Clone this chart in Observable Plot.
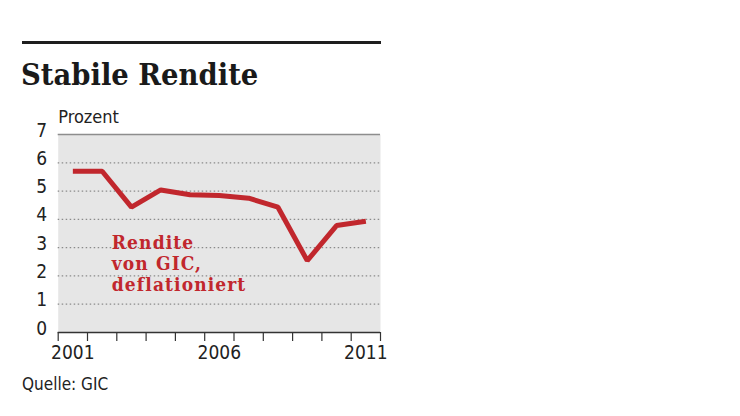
<!DOCTYPE html>
<html>
<head>
<meta charset="utf-8">
<script src="https://cdn.jsdelivr.net/npm/d3@7"></script>
<script src="https://cdn.jsdelivr.net/npm/@observablehq/plot@0.6"></script>
<style>
  html, body { margin: 0; padding: 0; background: #fff; }
  #wrap { position: relative; width: 740px; height: 416px; overflow: hidden; }
  #rule { position: absolute; left: 22px; top: 41px; width: 359px; height: 3px; background: #1e1e1e; }
  #title { position: absolute; left: 21px; top: 56px; font-family: "DejaVu Serif Condensed", "DejaVu Serif", serif; font-weight: bold; font-size: 30.5px; color: #1a1a1a; white-space: nowrap; }
  #caption { position: absolute; left: 22px; top: 374px; font-family: "DejaVu Sans Condensed", "Liberation Sans Narrow", sans-serif; font-size: 17px; color: #222; }
  #chart { position: absolute; left: 0; top: 0; }
  .serieslabel text { letter-spacing: 1.1px; }
</style>
</head>
<body>
<div id="wrap">
  <div id="chart"></div>
  <div id="rule"></div>
  <div id="title">Stabile Rendite</div>
  <div id="caption">Quelle: GIC</div>
</div>
<script>
const years = [2001, 2002, 2003, 2004, 2005, 2006, 2007, 2008, 2009, 2010, 2011];
const values = [5.7, 5.7, 4.43, 5.04, 4.87, 4.84, 4.75, 4.43, 2.54, 3.78, 3.93];
const yTicks = [0, 1, 2, 3, 4, 5, 6, 7];
const gridTicks = [1, 2, 3, 4, 5, 6];
const xLabelYears = [2001, 2006, 2011];
const yearBoundaries = [2000.5, 2001.5, 2002.5, 2003.5, 2004.5, 2005.5, 2006.5, 2007.5, 2008.5, 2009.5, 2010.5, 2011.5];
const unitLabel = "Prozent";
const seriesLabel = "Rendite\nvon GIC,\ndeflationiert";
const seriesLabelPos = [{year: 2002.33, value: 3.47}];

const data = years.map((y, i) => ({year: y, value: values[i]}));

const narrow = "'DejaVu Sans Condensed', 'Liberation Sans Narrow', sans-serif";
const red = "#c1272d";

const chart = Plot.plot({
  width: 740,
  height: 416,
  marginLeft: 57.7,
  marginRight: 360,
  marginTop: 134,
  marginBottom: 84,
  style: {fontFamily: narrow, background: "transparent", overflow: "visible"},
  x: {domain: [2000.5, 2011.5], axis: null},
  y: {domain: [0, 7], axis: null},
  marks: [
    Plot.frame({fill: "#e6e6e6", stroke: null}),
    Plot.ruleY(gridTicks, {stroke: "#8a8a8a", strokeWidth: 1.2, strokeDasharray: "1.5,2.5"}),
    Plot.ruleY([7], {stroke: "#8d8d8d", strokeWidth: 1.5}),
    Plot.axisY({ticks: yTicks, label: null, tickSize: 0, tickPadding: 11, fontSize: 19, dy: -4, fill: "#222", tickFormat: d => String(d)}),
    Plot.text([unitLabel], {frameAnchor: "top-left", dy: -24, textAnchor: "start", fontSize: 18, fill: "#222"}),
    Plot.axisX({ticks: yearBoundaries, label: null, tickSize: 9, tickFormat: () => "", stroke: "#333", strokeWidth: 1.2}),
    Plot.axisX({ticks: xLabelYears, label: null, tickSize: 0, tickPadding: 13, fontSize: 19, fill: "#222", tickFormat: d => String(d)}),
    Plot.ruleY([0], {stroke: "#333", strokeWidth: 1.5}),
    Plot.line(data, {x: "year", y: "value", stroke: red, strokeWidth: 5, strokeLinejoin: "miter", strokeLinecap: "butt"}),
    Plot.text(seriesLabelPos, {x: "year", y: "value", text: () => seriesLabel, className: "serieslabel", textAnchor: "start", lineAnchor: "top", lineHeight: 1.1, fontSize: 19, fontWeight: "bold", fill: red, fontFamily: "'DejaVu Serif Condensed', 'DejaVu Serif', serif"})
  ]
});
document.getElementById("chart").appendChild(chart);
</script>
</body>
</html>
